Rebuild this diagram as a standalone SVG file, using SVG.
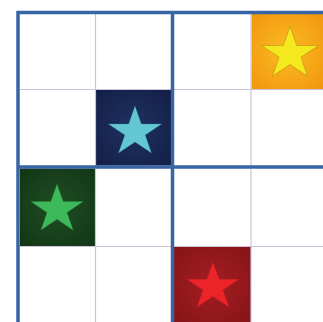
<svg xmlns="http://www.w3.org/2000/svg" width="323" height="322" viewBox="0 0 323 322">
<defs>
<radialGradient id="gOrange" cx="0.5" cy="0.5" r="0.7"><stop offset="0" stop-color="#fbbc22"/><stop offset="1" stop-color="#f1960e"/></radialGradient>
<radialGradient id="gNavy" cx="0.5" cy="0.5" r="0.7"><stop offset="0" stop-color="#1f3263"/><stop offset="1" stop-color="#131e45"/></radialGradient>
<radialGradient id="gGreen" cx="0.5" cy="0.5" r="0.7"><stop offset="0" stop-color="#1f4f23"/><stop offset="1" stop-color="#123515"/></radialGradient>
<radialGradient id="gRed" cx="0.5" cy="0.5" r="0.7"><stop offset="0" stop-color="#a41e22"/><stop offset="1" stop-color="#861418"/></radialGradient>
<path id="star" d="M0,-100 L22.45,-30.9 L95.11,-30.9 L36.33,11.8 L58.78,80.9 L0,38.2 L-58.78,80.9 L-36.33,11.8 L-95.11,-30.9 L-22.45,-30.9 Z"/>
</defs>
<style>
.thin{stroke:#cbc3da;stroke-width:1.2;fill:none}
.thick{stroke:#3765a5;stroke-width:3.5;fill:none}
.st{vector-effect:non-scaling-stroke;stroke-width:1}
</style>
<rect width="323" height="322" fill="#ffffff"/>
<g id="cells">
<rect id="cell-orange" x="251.5" y="14" width="72" height="75" fill="url(#gOrange)"/>
<rect id="cell-navy" x="96" y="90" width="75" height="75.5" fill="url(#gNavy)"/>
<rect id="cell-green" x="20" y="168.5" width="75.5" height="77.5" fill="url(#gGreen)"/>
<rect id="cell-red" x="174" y="247" width="77" height="76" fill="url(#gRed)"/>
</g>
<g id="grid">
<line class="thin" x1="95.5" y1="12" x2="95.5" y2="322"/>
<line class="thin" x1="251" y1="12" x2="251" y2="322"/>
<line class="thin" x1="18" y1="89.5" x2="323" y2="89.5"/>
<line class="thin" x1="18" y1="246.5" x2="323" y2="246.5"/>
<line class="thick" x1="172.5" y1="12" x2="172.5" y2="322"/>
<line class="thick" x1="18" y1="167" x2="323" y2="167"/>
<polyline class="thick" points="18,322 18,12.5 323,12.5"/>
</g>
<g id="stars">
<use id="star-yellow" href="#star" class="st" style="stroke-width:1.5" transform="translate(290,54) scale(0.3,0.275)" fill="#f4e81f" stroke="#a6721c"/>
<use id="star-cyan" href="#star" class="st" transform="translate(135,132) scale(0.28,0.26)" fill="#62c7d1" stroke="#3a8a98"/>
<use id="star-green" href="#star" class="st" transform="translate(57,209.5) scale(0.275,0.255)" fill="#3db95b" stroke="#2a8040"/>
<use id="star-red" href="#star" class="st" transform="translate(213,287) scale(0.275,0.25)" fill="#ec2429" stroke="#b01a1e"/>
</g>
</svg>
